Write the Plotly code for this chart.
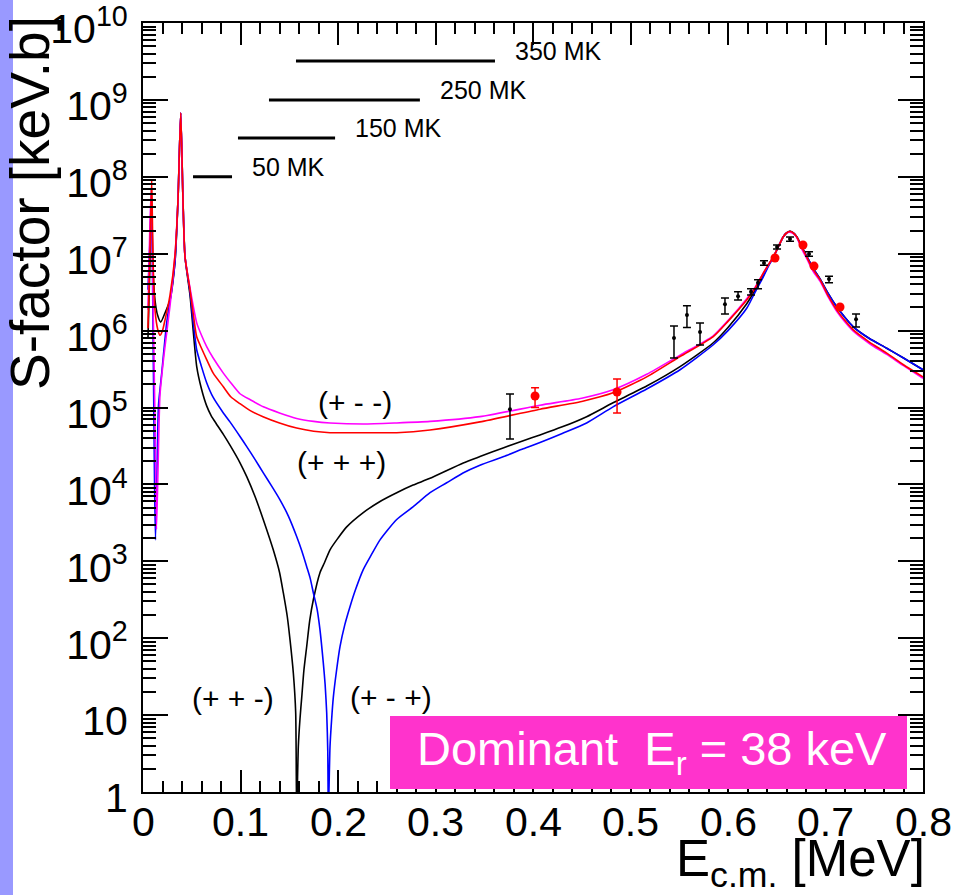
import math
import plotly.graph_objects as go

FONT = "Liberation Sans, Arial, Helvetica, sans-serif"

# ---- R-matrix S-factor curves for the four interference sign choices ----
# (+ + -)  black
E_ppm = [0.0051, 0.0072, 0.0087, 0.0103, 0.0123, 0.0150, 0.0182, 0.0226, 0.0277, 0.0328,
         0.0359, 0.0387, 0.0410, 0.0431, 0.0482, 0.0515, 0.0551, 0.0600, 0.0653, 0.0700,
         0.0750, 0.0824, 0.0892, 0.0995, 0.1064, 0.1150, 0.1234, 0.1336, 0.1400, 0.1439,
         0.1480, 0.1508, 0.1542, 0.1566, 0.1576, 0.1593, 0.1610, 0.1628, 0.1650, 0.1679,
         0.1710, 0.1747, 0.1815, 0.1860, 0.1918, 0.2000, 0.2089, 0.2259, 0.2431, 0.2602,
         0.2770, 0.2944, 0.3285, 0.3456, 0.3700, 0.3900, 0.4072, 0.4300, 0.4550, 0.4821,
         0.5166, 0.5508, 0.5846, 0.6000, 0.6192, 0.6280, 0.6362, 0.6415, 0.6465, 0.6520,
         0.6567, 0.6600, 0.6636, 0.6670, 0.6705, 0.6750, 0.6807, 0.6870, 0.6944, 0.7030,
         0.7115, 0.7200, 0.7285, 0.7450, 0.7628, 0.7800, 0.8000]
S_ppm = [7.9e5, 8.3e6, 6.8e7, 6.2e6, 2.5e6, 1.58e6, 1.29e6, 1.7e6, 2.5e6, 7.8e6,
         5.0e7, 6.8e8, 5.0e7, 9.1e6, 2.9e6, 1.0e6, 3.4e5, 1.74e5, 1.05e5, 7.8e4,
         6.2e4, 4.47e4, 3.24e4, 1.91e4, 1.26e4, 6.9e3, 3.47e3, 1.41e3, 720, 390,
         190, 95, 35, 10.7, 0.5, 3.9, 8.9, 17, 38, 78,
         170, 316, 710, 950, 1.41e3, 2.0e3, 2.8e3, 4.3e3, 6.0e3, 7.8e3,
         9.8e3, 1.2e4, 1.9e4, 2.3e4, 3.0e4, 3.7e4, 4.4e4, 5.6e4, 7.6e4, 1.15e5,
         1.9e5, 3.4e5, 6.9e5, 1.1e6, 2.24e6, 3.4e6, 5.2e6, 7.1e6, 9.1e6, 1.26e7,
         1.66e7, 1.86e7, 1.95e7, 1.86e7, 1.66e7, 1.29e7, 9.3e6, 6.6e6, 4.7e6, 3.0e6,
         2.04e6, 1.48e6, 1.12e6, 7.9e5, 5.9e5, 4.4e5, 3.1e5]

# (+ - +)  blue
E_pmp = [0.0051, 0.0072, 0.0087, 0.0103, 0.0118, 0.0128, 0.0144, 0.0159, 0.0192, 0.0243,
         0.0294, 0.0328, 0.0359, 0.0387, 0.0410, 0.0431, 0.0482, 0.0515, 0.0551, 0.0600,
         0.0653, 0.0720, 0.0824, 0.0892, 0.0995, 0.1064, 0.1150, 0.1234, 0.1320, 0.1405,
         0.1490, 0.1576, 0.1630, 0.1679, 0.1715, 0.1747, 0.1785, 0.1815, 0.1849, 0.1868,
         0.1884, 0.1895, 0.1901, 0.1918, 0.1935, 0.1952, 0.1985, 0.2021, 0.2070, 0.2123,
         0.2180, 0.2259, 0.2340, 0.2431, 0.2602, 0.2769, 0.2944, 0.3115, 0.3282, 0.3456,
         0.3700, 0.3900, 0.4072, 0.4300, 0.4550, 0.4821, 0.5166, 0.5508, 0.5846, 0.6000,
         0.6192, 0.6280, 0.6362, 0.6415, 0.6465, 0.6520, 0.6567, 0.6600, 0.6636, 0.6670,
         0.6705, 0.6750, 0.6807, 0.6870, 0.6944, 0.7030, 0.7115, 0.7200, 0.7285, 0.7450,
         0.7628, 0.7800, 0.8000]
S_pmp = [3.4e6, 1.51e7, 5.0e7, 1.02e6, 1.15e4, 1.9e3, 1.55e4, 1.07e5, 2.8e5, 1.26e6,
         3.4e6, 7.8e6, 5.0e7, 6.8e8, 5.0e7, 9.1e6, 3.2e6, 1.29e6, 5.6e5, 3.4e5,
         2.1e5, 1.35e5, 8.5e4, 6.5e4, 4.2e4, 3.1e4, 2.1e4, 1.41e4, 9.5e3, 6.3e3,
         3.9e3, 2.1e3, 1.35e3, 850, 600, 390, 240, 129, 48, 25,
         10.7, 3.5, 0.5, 3.9, 8.9, 17, 38, 78, 150, 257,
         430, 780, 1.2e3, 1.9e3, 3.5e3, 5.1e3, 7.8e3, 1.05e4, 1.41e4, 1.78e4,
         2.3e4, 2.9e4, 3.5e4, 4.6e4, 6.3e4, 1.02e5, 1.74e5, 3.1e5, 6.5e5, 1.0e6,
         1.95e6, 3.2e6, 5.0e6, 6.9e6, 8.9e6, 1.26e7, 1.66e7, 1.86e7, 1.95e7, 1.86e7,
         1.66e7, 1.29e7, 9.3e6, 6.6e6, 4.7e6, 3.0e6, 2.04e6, 1.48e6, 1.12e6, 7.9e5,
         5.9e5, 4.4e5, 3.1e5]

# (+ - -)  magenta
E_pmm = [0.0051, 0.0072, 0.0087, 0.0103, 0.0123, 0.0138, 0.0154, 0.0174, 0.0215, 0.0277,
         0.0328, 0.0359, 0.0387, 0.0410, 0.0431, 0.0482, 0.0515, 0.0551, 0.0600, 0.0653,
         0.0720, 0.0824, 0.0900, 0.0995, 0.1100, 0.1234, 0.1400, 0.1576, 0.1750, 0.1918,
         0.2259, 0.2602, 0.2944, 0.3456, 0.4072, 0.4500, 0.4821, 0.5166, 0.5508, 0.5846,
         0.6000, 0.6192, 0.6280, 0.6362, 0.6415, 0.6465, 0.6520, 0.6567, 0.6600, 0.6636,
         0.6670, 0.6705, 0.6750, 0.6807, 0.6870, 0.6944, 0.7030, 0.7115, 0.7200, 0.7285,
         0.7450, 0.7628, 0.7800, 0.8000]
S_pmm = [1.86e6, 2.75e7, 6.8e7, 2.5e6, 6.9e4, 2.6e3, 1.55e4, 1.45e5, 4.8e5, 2.1e6,
         9.5e6, 5.0e7, 6.8e8, 5.0e7, 9.1e6, 3.6e6, 2.1e6, 1.26e6, 8.7e5, 6.2e5,
         4.4e5, 2.8e5, 2.1e5, 1.51e5, 1.26e5, 1.02e5, 8.5e4, 7.2e4, 6.6e4, 6.3e4,
         6.1e4, 6.3e4, 6.6e4, 7.6e4, 1.07e5, 1.32e5, 1.7e5, 2.7e5, 4.8e5, 8.5e5,
         1.35e6, 2.6e6, 3.7e6, 5.6e6, 7.2e6, 9.1e6, 1.26e7, 1.66e7, 1.86e7, 1.9e7,
         1.82e7, 1.62e7, 1.2e7, 8.7e6, 6.0e6, 4.4e6, 2.7e6, 1.78e6, 1.29e6, 9.8e5,
         6.8e5, 4.9e5, 3.5e5, 2.4e5]

# (+ + +)  red
E_ppp = [0.0051, 0.0072, 0.0089, 0.0103, 0.0123, 0.0150, 0.0174, 0.0200, 0.0226, 0.0277,
         0.0328, 0.0359, 0.0387, 0.0410, 0.0431, 0.0482, 0.0515, 0.0551, 0.0600, 0.0653,
         0.0720, 0.0824, 0.0900, 0.0995, 0.1100, 0.1231, 0.1400, 0.1576, 0.1750, 0.1918,
         0.2256, 0.2602, 0.2944, 0.3456, 0.4072, 0.4500, 0.4821, 0.5166, 0.5508, 0.5846,
         0.6000, 0.6192, 0.6280, 0.6362, 0.6415, 0.6465, 0.6520, 0.6567, 0.6600, 0.6636,
         0.6670, 0.6705, 0.6750, 0.6807, 0.6870, 0.6944, 0.7030, 0.7115, 0.7200, 0.7285,
         0.7450, 0.7628, 0.7800, 0.8000]
S_ppp = [1.07e6, 1.12e7, 9.1e7, 8.3e6, 1.86e6, 1.05e6, 8.7e5, 1.0e6, 1.38e6, 2.9e6,
         9.5e6, 5.0e7, 6.8e8, 5.0e7, 9.1e6, 3.4e6, 1.66e6, 8.3e5, 5.9e5, 4.2e5,
         2.8e5, 1.86e5, 1.38e5, 1.12e5, 9.1e4, 7.6e4, 6.3e4, 5.4e4, 4.9e4, 4.7e4,
         4.7e4, 4.7e4, 5.1e4, 6.5e4, 9.5e4, 1.2e5, 1.55e5, 2.5e5, 4.6e5, 8.3e5,
         1.32e6, 2.5e6, 3.6e6, 5.6e6, 7.2e6, 9.1e6, 1.26e7, 1.66e7, 1.86e7, 1.95e7,
         1.86e7, 1.66e7, 1.26e7, 9.1e6, 6.3e6, 4.6e6, 2.8e6, 1.86e6, 1.35e6, 1.02e6,
         7.1e5, 5.1e5, 3.6e5, 2.5e5]

# ---- measured S-factors ----
# earlier data set (black)
E_old = [0.3764, 0.5446, 0.5579, 0.5713, 0.5969, 0.6103, 0.6236, 0.6308, 0.6369, 0.6503,
         0.6636, 0.6831, 0.7036, 0.7313]
S_old = [9.5e4, 8.0e5, 1.6e6, 9.6e5, 2.2e6, 2.8e6, 3.2e6, 4.2e6, 7.6e6, 1.22e7,
         1.55e7, 9.9e6, 4.7e6, 1.4e6]
S_old_hi = [1.5e5, 1.15e6, 2.1e6, 1.26e6, 2.66e6, 3.2e6, 3.5e6, 4.6e6, 8.1e6, 1.3e7,
            1.65e7, 1.06e7, 5.1e6, 1.65e6]
S_old_lo = [3.9e4, 4.4e5, 1.1e6, 6.5e5, 1.65e6, 2.5e6, 2.9e6, 3.5e6, 7.1e6, 1.15e7,
            1.45e7, 9.3e6, 4.2e6, 1.11e6]

# present data set (red)
E_new = [0.4021, 0.4862, 0.6482, 0.6769, 0.6882, 0.7149]
S_new = [1.41e5, 1.59e5, 8.8e6, 1.3e7, 6.9e6, 2.03e6]
S_new_hi = [1.8e5, 2.35e5, 8.8e6, 1.3e7, 6.9e6, 2.03e6]
S_new_lo = [1.0e5, 8.5e4, 8.8e6, 1.3e7, 6.9e6, 2.03e6]

# ---- Gamow windows ----
gamow_T = ["50 MK", "150 MK", "250 MK", "350 MK"]
gamow_lo = [0.0513, 0.0974, 0.1292, 0.1569]
gamow_hi = [0.0913, 0.1970, 0.2840, 0.3610]
gamow_level = [1.0e8, 3.2e8, 1.0e9, 3.2e9]

# ---- axis ticks ----
x_ticks = [0, 0.1, 0.2, 0.3, 0.4, 0.5, 0.6, 0.7, 0.8]
x_ticktext = ["0", "0.1", "0.2", "0.3", "0.4", "0.5", "0.6", "0.7", "0.8"]
y_ticks = [1, 1e1, 1e2, 1e3, 1e4, 1e5, 1e6, 1e7, 1e8, 1e9, 1e10]
y_ticktext = ["1", "10"] + ["10<sup>%d</sup>" % k for k in range(2, 11)]

fig = go.Figure()

curves = [
    (E_ppm, S_ppm, "#000000", "(+ + -)"),
    (E_pmp, S_pmp, "#0000ff", "(+ - +)"),
    (E_pmm, S_pmm, "#ff00ff", "(+ - -)"),
    (E_ppp, S_ppp, "#ff0000", "(+ + +)"),
]
for E, S, col, name in curves:
    fig.add_trace(go.Scatter(x=E, y=S, mode="lines", name=name,
                             line=dict(color=col, width=1.6, shape="spline", smoothing=0.6),
                             hoverinfo="skip"))

fig.add_trace(go.Scatter(
    x=E_old, y=S_old, mode="markers", name="earlier",
    marker=dict(color="black", size=4),
    error_y=dict(type="data", symmetric=False,
                 array=[h - s for h, s in zip(S_old_hi, S_old)],
                 arrayminus=[s - l for s, l in zip(S_old, S_old_lo)],
                 color="black", thickness=1.5, width=4)))

fig.add_trace(go.Scatter(
    x=E_new, y=S_new, mode="markers", name="present",
    marker=dict(color="#ff0000", size=9),
    error_y=dict(type="data", symmetric=False,
                 array=[h - s for h, s in zip(S_new_hi, S_new)],
                 arrayminus=[s - l for s, l in zip(S_new, S_new_lo)],
                 color="#ff0000", thickness=1.5, width=4)))

# Gamow windows with temperature labels
for T, lo, hi, lev in zip(gamow_T, gamow_lo, gamow_hi, gamow_level):
    fig.add_trace(go.Scatter(x=[lo, hi], y=[lev, lev], mode="lines",
                             line=dict(color="black", width=3), hoverinfo="skip"))
    fig.add_annotation(x=hi, y=math.log10(lev), text=T, showarrow=False,
                       xanchor="left", yanchor="middle", xshift=18, yshift=10,
                       font=dict(family=FONT, size=25, color="black"))

# curve labels
label_pos = {"(+ - -)": (0.2174, 5.06), "(+ + +)": (0.2031, 4.28),
             "(+ + -)": (0.0923, 1.21), "(+ - +)": (0.2544, 1.235)}
for txt, (lx, ly) in label_pos.items():
    fig.add_annotation(x=lx, y=ly, text=txt, showarrow=False,
                       xanchor="center", yanchor="middle",
                       font=dict(family=FONT, size=30, color="black"))

# x tick labels, set a little closer to the axis than the default
for v, t in zip(x_ticks, x_ticktext):
    fig.add_annotation(x=v, xref="x", y=0, yref="paper", text=t, showarrow=False,
                       xanchor="center", yanchor="middle", yshift=-30,
                       font=dict(family=FONT, size=41, color="black"))

# left colour strip of the slide
fig.add_shape(type="rect", xref="paper", yref="paper",
              x0=-143 / 780, x1=-130 / 780, y0=-103 / 769, y1=792 / 769,
              fillcolor="#9999ff", line=dict(width=0), layer="above")

# highlighted box
fig.add_shape(type="rect", xref="paper", yref="paper",
              x0=247 / 780, x1=764 / 780, y0=3 / 769, y1=76 / 769,
              fillcolor="#ff33cc", line=dict(width=0), layer="above")
fig.add_annotation(xref="paper", yref="paper", x=509 / 780, y=40 / 769,
                   text="Dominant\u00a0 E<sub>r</sub> = 38 keV", showarrow=False,
                   xanchor="center", yanchor="middle",
                   font=dict(family=FONT, size=47, color="white"))

# axis titles
fig.add_annotation(xref="paper", yref="paper", x=1.0, y=-36 / 769, xshift=4,
                   text="E<sub>c.m.</sub> [MeV]", showarrow=False,
                   xanchor="right", yanchor="top",
                   font=dict(family=FONT, size=51, color="black"))
fig.add_annotation(xref="paper", yref="paper", x=-113 / 780, y=778 / 769,
                   text="S-factor [keV.b]", showarrow=False, textangle=-90,
                   xanchor="center", yanchor="top",
                   font=dict(family=FONT, size=55, color="black"))

axis_common = dict(showgrid=False, zeroline=False, showline=True, linecolor="black",
                   linewidth=2, mirror="ticks", ticks="inside", tickcolor="black",
                   tickwidth=1.5, automargin=False,
                   tickfont=dict(family=FONT, size=41, color="black"))

fig.update_xaxes(range=[0, 0.8], tickmode="array", tickvals=x_ticks, showticklabels=False,
                 ticklen=22,
                 minor=dict(tickmode="linear", tick0=0, dtick=0.02, ticks="inside",
                            ticklen=11, tickwidth=1.5, tickcolor="black", showgrid=False),
                 **axis_common)
fig.update_yaxes(type="log", range=[-0.0005, 10.0005], tickmode="array", tickvals=y_ticks,
                 ticktext=y_ticktext, ticklen=25, ticklabelshift=6, ticklabelstandoff=5,
                 ticklabeloverflow="allow",
                 minor=dict(tickmode="array",
                            tickvals=[m * 10 ** k for k in range(10) for m in range(2, 10)],
                            ticks="inside", ticklen=13, tickwidth=1.5, tickcolor="black",
                            showgrid=False),
                 **axis_common)

fig.update_layout(width=958, height=895, margin=dict(l=143, r=35, t=23, b=103),
                  paper_bgcolor="white", plot_bgcolor="white", showlegend=False,
                  font=dict(family=FONT, color="black"))

fig.write_html("out.html")
